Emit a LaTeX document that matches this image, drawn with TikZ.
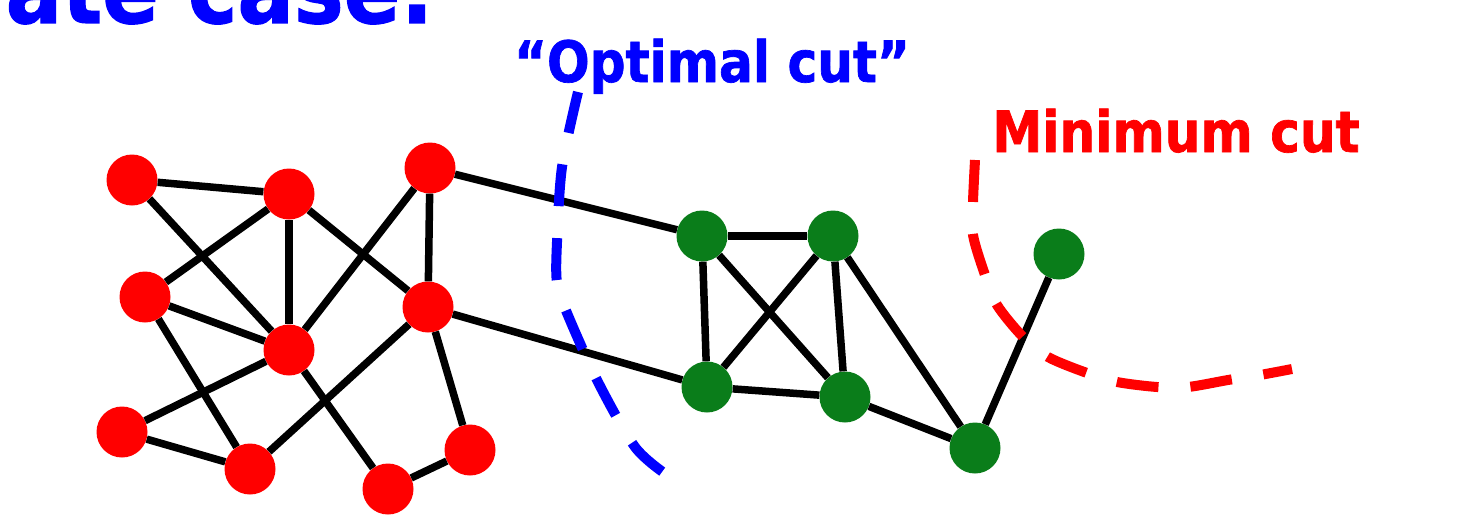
\documentclass[tikz,border=0pt]{standalone}
\usepackage{fontspec}
\newfontfamily\cutfont[FakeStretch=0.88, FakeBold=1.2]{DejaVu Sans}
\definecolor{nodegreen}{RGB}{10,125,26}
\tikzset{
  vert/.style={circle, fill, inner sep=0pt, minimum size=51pt},
  rv/.style={vert, red},
  gv/.style={vert, nodegreen},
  edge/.style={line width=7.5pt, black},
  cutline/.style={line width=10pt, dash pattern=on 42pt off 32pt},
  cutlabel/.style={anchor=base, inner sep=0pt, font=\cutfont\bfseries\fontsize{57}{57}\selectfont},
}
\begin{document}
\begin{tikzpicture}[x=1pt, y=-1pt]
    \useasboundingbox (0,0) rectangle (1480,522);
    \node[anchor=base east, inner sep=0pt, text=blue,
        font=\cutfont\bfseries\fontsize{95}{95}\selectfont] (title) at (434,23) {rate case:};
    % red side
    \node[rv] (r1) at (132,180) {};
    \node[rv] (r2) at (289,194) {};
    \node[rv] (r3) at (430,168) {};
    \node[rv] (r4) at (145,297) {};
    \node[rv] (r5) at (289,350) {};
    \node[rv] (r6) at (428,307) {};
    \node[rv] (r7) at (122,432) {};
    \node[rv] (r8) at (250,469) {};
    \node[rv] (r9) at (388,489) {};
    \node[rv] (r10) at (470,450) {};
    % green side
    \node[gv] (g1) at (702,236) {};
    \node[gv] (g2) at (833,236) {};
    \node[gv] (g3) at (707,387) {};
    \node[gv] (g4) at (845,397) {};
    \node[gv] (g5) at (975,448) {};
    \node[gv] (g6) at (1059,254) {};
    \foreach \a/\b in {r1/r2, r1/r5, r2/r4, r2/r5, r2/r6, r3/r5, r3/r6, r4/r5,
        r4/r8, r5/r7, r5/r9, r6/r8, r6/r10, r7/r8, r9/r10, r3/g1, r6/g3,
        g1/g2, g1/g3, g1/g4, g2/g3, g2/g4, g2/g5, g3/g4, g4/g5, g5/g6}
        \draw[edge] (\a) -- (\b);
    % the two cuts
    \draw[cutline, blue] plot[smooth] coordinates {(578,92) (562,167) (557,242)
        (557,283) (567,313) (598,382) (635,447) (667,475)};
    \node[cutlabel, text=blue] (optlabel) at (712,82) {“Optimal cut”};
    \draw[cutline, red] plot[smooth] coordinates {(975,160) (973,202) (973,235)
        (985,275) (997,305) (1023,337) (1048,357) (1087,373) (1117,382)
        (1157,387) (1188,387) (1228,380) (1260,375) (1292,369)};
    \node[cutlabel, text=red] (minlabel) at (1176,152) {Minimum cut};
\end{tikzpicture}
\end{document}
